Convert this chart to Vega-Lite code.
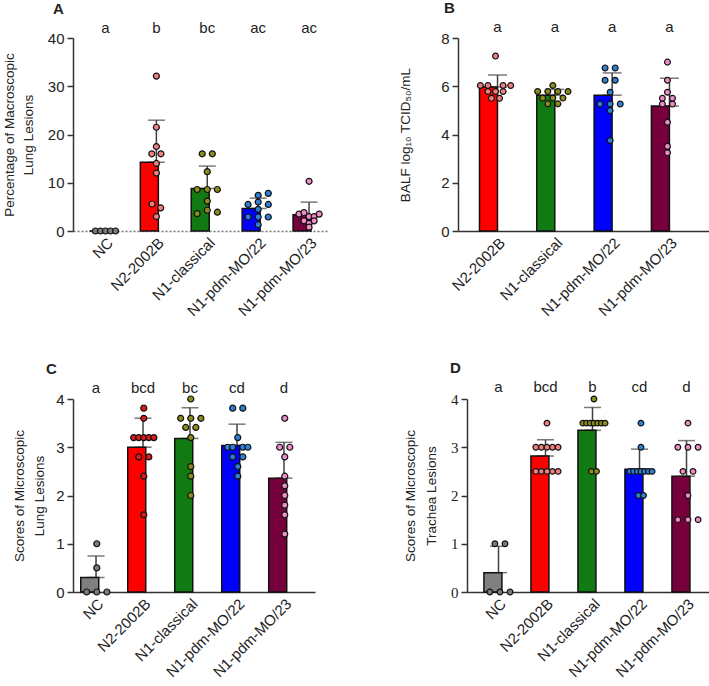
{
  "$schema": "https://vega.github.io/schema/vega-lite/v6.json",
  "padding": {"left": 2, "top": 0, "right": 2, "bottom": 0},
  "config": {
    "view": {"stroke": null},
    "font": "Liberation Sans",
    "axis": {"domainColor": "#333", "tickColor": "#333", "labelColor": "#222", "titleColor": "#222", "labelFontSize": 15, "titleFontSize": 13.5, "titleLineHeight": 19, "grid": false, "labelFont": "Liberation Sans", "titleFont": "Liberation Sans", "domainWidth": 1.5, "tickWidth": 1.5, "titleFontWeight": "normal", "tickSize": 6, "labelPadding": 3},
    "axisX": {"ticks": false, "labelAngle": -45, "title": null, "labelPadding": 4},
    "title": {"fontSize": 15, "fontWeight": "bold", "anchor": "start", "frame": "group", "color": "#222"},
    "text": {"font": "Liberation Sans", "fontSize": 15, "color": "#222"}
  },
  "datasets": {
    "A": [
      {"g": "NC", "v": 0, "s": -2}, {"g": "NC", "v": 0, "s": -1}, {"g": "NC", "v": 0, "s": 0}, {"g": "NC", "v": 0, "s": 1}, {"g": "NC", "v": 0, "s": 2},
      {"g": "N2-2002B", "v": 32.1, "s": 0}, {"g": "N2-2002B", "v": 21.5, "s": 0}, {"g": "N2-2002B", "v": 17.5, "s": 0}, {"g": "N2-2002B", "v": 16.0, "s": -0.9}, {"g": "N2-2002B", "v": 16.0, "s": 0.9}, {"g": "N2-2002B", "v": 14.0, "s": 0}, {"g": "N2-2002B", "v": 12.0, "s": 0}, {"g": "N2-2002B", "v": 5.6, "s": -0.85}, {"g": "N2-2002B", "v": 4.8, "s": 0.85}, {"g": "N2-2002B", "v": 3.0, "s": 0},
      {"g": "N1-classical", "v": 16.0, "s": -1}, {"g": "N1-classical", "v": 16.0, "s": 1}, {"g": "N1-classical", "v": 12.3, "s": 0}, {"g": "N1-classical", "v": 8.6, "s": -2}, {"g": "N1-classical", "v": 8.6, "s": 0}, {"g": "N1-classical", "v": 8.6, "s": 2}, {"g": "N1-classical", "v": 6.2, "s": 0}, {"g": "N1-classical", "v": 3.6, "s": -2}, {"g": "N1-classical", "v": 4.3, "s": 0}, {"g": "N1-classical", "v": 3.9, "s": 2},
      {"g": "N1-pdm-MO/22", "v": 7.8, "s": 2}, {"g": "N1-pdm-MO/22", "v": 7.4, "s": 0}, {"g": "N1-pdm-MO/22", "v": 5.5, "s": -2}, {"g": "N1-pdm-MO/22", "v": 6.0, "s": 0}, {"g": "N1-pdm-MO/22", "v": 5.5, "s": 2}, {"g": "N1-pdm-MO/22", "v": 4.5, "s": 0}, {"g": "N1-pdm-MO/22", "v": 2.9, "s": -2}, {"g": "N1-pdm-MO/22", "v": 2.9, "s": 0}, {"g": "N1-pdm-MO/22", "v": 2.9, "s": 2}, {"g": "N1-pdm-MO/22", "v": 1.3, "s": 0},
      {"g": "N1-pdm-MO/23", "v": 10.3, "s": 0}, {"g": "N1-pdm-MO/23", "v": 3.5, "s": -2}, {"g": "N1-pdm-MO/23", "v": 3.8, "s": -1}, {"g": "N1-pdm-MO/23", "v": 3.0, "s": 0}, {"g": "N1-pdm-MO/23", "v": 3.0, "s": 1}, {"g": "N1-pdm-MO/23", "v": 3.5, "s": 2}, {"g": "N1-pdm-MO/23", "v": 2.1, "s": -1}, {"g": "N1-pdm-MO/23", "v": 1.6, "s": 0}, {"g": "N1-pdm-MO/23", "v": 2.1, "s": 1}, {"g": "N1-pdm-MO/23", "v": 0.8, "s": 0}
    ],
    "B": [
      {"g": "N2-2002B", "v": 7.25, "s": 0}, {"g": "N2-2002B", "v": 6.03, "s": -3}, {"g": "N2-2002B", "v": 6.03, "s": -1.5}, {"g": "N2-2002B", "v": 6.03, "s": 1.5}, {"g": "N2-2002B", "v": 6.03, "s": 3}, {"g": "N2-2002B", "v": 5.78, "s": -1.5}, {"g": "N2-2002B", "v": 5.78, "s": 0}, {"g": "N2-2002B", "v": 5.78, "s": 1.5}, {"g": "N2-2002B", "v": 5.5, "s": -0.8}, {"g": "N2-2002B", "v": 5.5, "s": 0.8},
      {"g": "N1-classical", "v": 6.03, "s": 0}, {"g": "N1-classical", "v": 5.78, "s": -3}, {"g": "N1-classical", "v": 5.78, "s": -1}, {"g": "N1-classical", "v": 5.78, "s": 1}, {"g": "N1-classical", "v": 5.78, "s": 3}, {"g": "N1-classical", "v": 5.51, "s": -2}, {"g": "N1-classical", "v": 5.51, "s": 0}, {"g": "N1-classical", "v": 5.51, "s": 2}, {"g": "N1-classical", "v": 5.27, "s": -1}, {"g": "N1-classical", "v": 5.27, "s": 1},
      {"g": "N1-pdm-MO/22", "v": 6.76, "s": -1}, {"g": "N1-pdm-MO/22", "v": 6.76, "s": 1}, {"g": "N1-pdm-MO/22", "v": 6.25, "s": -1}, {"g": "N1-pdm-MO/22", "v": 6.25, "s": 1}, {"g": "N1-pdm-MO/22", "v": 5.75, "s": 0}, {"g": "N1-pdm-MO/22", "v": 5.26, "s": -2}, {"g": "N1-pdm-MO/22", "v": 5.26, "s": 0}, {"g": "N1-pdm-MO/22", "v": 5.26, "s": 2}, {"g": "N1-pdm-MO/22", "v": 4.99, "s": 0}, {"g": "N1-pdm-MO/22", "v": 3.75, "s": 0},
      {"g": "N1-pdm-MO/23", "v": 7.0, "s": 0}, {"g": "N1-pdm-MO/23", "v": 6.25, "s": 0}, {"g": "N1-pdm-MO/23", "v": 5.75, "s": 0}, {"g": "N1-pdm-MO/23", "v": 5.5, "s": -1}, {"g": "N1-pdm-MO/23", "v": 5.5, "s": 1}, {"g": "N1-pdm-MO/23", "v": 5.26, "s": -1}, {"g": "N1-pdm-MO/23", "v": 5.26, "s": 1}, {"g": "N1-pdm-MO/23", "v": 4.51, "s": 0}, {"g": "N1-pdm-MO/23", "v": 3.51, "s": 0}, {"g": "N1-pdm-MO/23", "v": 3.24, "s": 0}
    ],
    "C": [
      {"g": "NC", "v": 1.0, "s": 0}, {"g": "NC", "v": 0.5, "s": 0}, {"g": "NC", "v": 0, "s": -2}, {"g": "NC", "v": 0, "s": 0}, {"g": "NC", "v": 0, "s": 2},
      {"g": "N2-2002B", "v": 3.81, "s": 0}, {"g": "N2-2002B", "v": 3.6, "s": 0}, {"g": "N2-2002B", "v": 3.2, "s": -2}, {"g": "N2-2002B", "v": 3.2, "s": -1}, {"g": "N2-2002B", "v": 3.2, "s": 0}, {"g": "N2-2002B", "v": 3.2, "s": 1}, {"g": "N2-2002B", "v": 3.2, "s": 2}, {"g": "N2-2002B", "v": 2.8, "s": -1}, {"g": "N2-2002B", "v": 2.8, "s": 1}, {"g": "N2-2002B", "v": 2.4, "s": 0}, {"g": "N2-2002B", "v": 1.6, "s": 0},
      {"g": "N1-classical", "v": 4.0, "s": 0}, {"g": "N1-classical", "v": 3.6, "s": -2}, {"g": "N1-classical", "v": 3.6, "s": 0}, {"g": "N1-classical", "v": 3.6, "s": 2}, {"g": "N1-classical", "v": 3.41, "s": -1}, {"g": "N1-classical", "v": 3.41, "s": 1}, {"g": "N1-classical", "v": 3.2, "s": 0}, {"g": "N1-classical", "v": 2.6, "s": 0}, {"g": "N1-classical", "v": 2.4, "s": 0}, {"g": "N1-classical", "v": 2.0, "s": 0},
      {"g": "N1-pdm-MO/22", "v": 3.81, "s": -1}, {"g": "N1-pdm-MO/22", "v": 3.81, "s": 1}, {"g": "N1-pdm-MO/22", "v": 3.2, "s": 0}, {"g": "N1-pdm-MO/22", "v": 3.0, "s": -2}, {"g": "N1-pdm-MO/22", "v": 3.0, "s": -1}, {"g": "N1-pdm-MO/22", "v": 3.0, "s": 1}, {"g": "N1-pdm-MO/22", "v": 3.0, "s": 2}, {"g": "N1-pdm-MO/22", "v": 2.8, "s": -1}, {"g": "N1-pdm-MO/22", "v": 2.8, "s": 1}, {"g": "N1-pdm-MO/22", "v": 2.6, "s": 0}, {"g": "N1-pdm-MO/22", "v": 2.4, "s": 0},
      {"g": "N1-pdm-MO/23", "v": 3.6, "s": 0}, {"g": "N1-pdm-MO/23", "v": 3.0, "s": -1}, {"g": "N1-pdm-MO/23", "v": 3.0, "s": 1}, {"g": "N1-pdm-MO/23", "v": 2.8, "s": 0}, {"g": "N1-pdm-MO/23", "v": 2.4, "s": 0}, {"g": "N1-pdm-MO/23", "v": 2.2, "s": 0}, {"g": "N1-pdm-MO/23", "v": 2.0, "s": 0}, {"g": "N1-pdm-MO/23", "v": 1.8, "s": 0}, {"g": "N1-pdm-MO/23", "v": 1.6, "s": 0}, {"g": "N1-pdm-MO/23", "v": 1.2, "s": 0}
    ],
    "D": [
      {"g": "NC", "v": 1.0, "s": -1}, {"g": "NC", "v": 1.0, "s": 1}, {"g": "NC", "v": 0, "s": -2}, {"g": "NC", "v": 0, "s": 0}, {"g": "NC", "v": 0, "s": 2},
      {"g": "N2-2002B", "v": 3.5, "s": 0}, {"g": "N2-2002B", "v": 3.0, "s": -2.2}, {"g": "N2-2002B", "v": 3.0, "s": -1.1}, {"g": "N2-2002B", "v": 3.0, "s": 0}, {"g": "N2-2002B", "v": 3.0, "s": 1.1}, {"g": "N2-2002B", "v": 3.0, "s": 2.2}, {"g": "N2-2002B", "v": 2.5, "s": -2.2}, {"g": "N2-2002B", "v": 2.5, "s": -1.1}, {"g": "N2-2002B", "v": 2.5, "s": 0}, {"g": "N2-2002B", "v": 2.5, "s": 1.1}, {"g": "N2-2002B", "v": 2.5, "s": 2.2},
      {"g": "N1-classical", "v": 4.0, "s": 0}, {"g": "N1-classical", "v": 3.5, "s": -2.2}, {"g": "N1-classical", "v": 3.5, "s": -1.47}, {"g": "N1-classical", "v": 3.5, "s": -0.73}, {"g": "N1-classical", "v": 3.5, "s": 0}, {"g": "N1-classical", "v": 3.5, "s": 0.73}, {"g": "N1-classical", "v": 3.5, "s": 1.47}, {"g": "N1-classical", "v": 3.5, "s": 2.2}, {"g": "N1-classical", "v": 2.5, "s": -0.5}, {"g": "N1-classical", "v": 2.5, "s": 0.5},
      {"g": "N1-pdm-MO/22", "v": 3.5, "s": 0}, {"g": "N1-pdm-MO/22", "v": 3.0, "s": 0}, {"g": "N1-pdm-MO/22", "v": 2.5, "s": -2.2}, {"g": "N1-pdm-MO/22", "v": 2.5, "s": -1.47}, {"g": "N1-pdm-MO/22", "v": 2.5, "s": -0.73}, {"g": "N1-pdm-MO/22", "v": 2.5, "s": 0}, {"g": "N1-pdm-MO/22", "v": 2.5, "s": 0.73}, {"g": "N1-pdm-MO/22", "v": 2.5, "s": 1.47}, {"g": "N1-pdm-MO/22", "v": 2.5, "s": 2.2}, {"g": "N1-pdm-MO/22", "v": 2.0, "s": -0.5}, {"g": "N1-pdm-MO/22", "v": 2.0, "s": 0.5},
      {"g": "N1-pdm-MO/23", "v": 3.5, "s": 0}, {"g": "N1-pdm-MO/23", "v": 3.0, "s": -2}, {"g": "N1-pdm-MO/23", "v": 3.0, "s": 0}, {"g": "N1-pdm-MO/23", "v": 3.0, "s": 2}, {"g": "N1-pdm-MO/23", "v": 2.5, "s": -1}, {"g": "N1-pdm-MO/23", "v": 2.5, "s": 1}, {"g": "N1-pdm-MO/23", "v": 2.0, "s": 0}, {"g": "N1-pdm-MO/23", "v": 1.5, "s": -2}, {"g": "N1-pdm-MO/23", "v": 1.5, "s": 0}, {"g": "N1-pdm-MO/23", "v": 1.5, "s": 2}
    ],
    "LA": [{"g": "NC", "t": "a"}, {"g": "N2-2002B", "t": "b"}, {"g": "N1-classical", "t": "bc"}, {"g": "N1-pdm-MO/22", "t": "ac"}, {"g": "N1-pdm-MO/23", "t": "ac"}],
    "LB": [{"g": "N2-2002B", "t": "a"}, {"g": "N1-classical", "t": "a"}, {"g": "N1-pdm-MO/22", "t": "a"}, {"g": "N1-pdm-MO/23", "t": "a"}],
    "LC": [{"g": "NC", "t": "a"}, {"g": "N2-2002B", "t": "bcd"}, {"g": "N1-classical", "t": "bc"}, {"g": "N1-pdm-MO/22", "t": "cd"}, {"g": "N1-pdm-MO/23", "t": "d"}],
    "LD": [{"g": "NC", "t": "a"}, {"g": "N2-2002B", "t": "bcd"}, {"g": "N1-classical", "t": "b"}, {"g": "N1-pdm-MO/22", "t": "cd"}, {"g": "N1-pdm-MO/23", "t": "d"}]
  },
  "columns": 1,
  "align": "none",
  "spacing": 41,
  "concat": [
    {
      "spacing": 70,
      "hconcat": [
        {
          "width": 255, "height": 193,
          "title": {"text": "A", "dx": -20, "offset": 4},
          "data": {"name": "A"},
          "encoding": {"x": {"field": "g", "type": "nominal", "sort": ["NC", "N2-2002B", "N1-classical", "N1-pdm-MO/22", "N1-pdm-MO/23"], "scale": {"paddingInner": 0.37, "paddingOuter": 0.19, "align": 0.85}, "axis": {"domainDash": [2, 2], "domainColor": "#777"}}},
          "layer": [
            {"transform": [{"aggregate": [{"op": "mean", "field": "v", "as": "m"}, {"op": "stdev", "field": "v", "as": "sd"}, {"op": "missing", "field": "v", "as": "z"}], "groupby": ["g"]}],
             "mark": {"type": "errorbar", "color": "#404040", "rule": {"strokeWidth": 1.5}, "ticks": {"size": 17, "thickness": 1.5}},
             "encoding": {"y": {"field": "m", "type": "quantitative", "scale": {"domain": [0, 40]}, "axis": {"title": ["Percentage of Macroscopic", "Lung Lesions"], "values": [0, 10, 20, 30, 40], "titlePadding": 12}}, "yError": {"field": "sd"}, "yError2": {"field": "z"}}},
            {"mark": {"type": "bar", "stroke": "#111", "strokeWidth": 1.5},
             "encoding": {"y": {"aggregate": "mean", "field": "v", "type": "quantitative"}, "color": {"field": "g", "type": "nominal", "legend": null, "scale": {"domain": ["NC", "N2-2002B", "N1-classical", "N1-pdm-MO/22", "N1-pdm-MO/23"], "range": ["#808080", "#ff0000", "#127a12", "#0000ff", "#76003c"]}}}},
            {"mark": {"type": "circle", "size": 36, "stroke": "#111", "strokeWidth": 1.2, "opacity": 1},
             "encoding": {"y": {"field": "v", "type": "quantitative"}, "xOffset": {"field": "s", "type": "quantitative", "scale": {"domain": [-2.29, 2.29]}}, "fill": {"field": "g", "type": "nominal", "legend": null, "scale": {"domain": ["NC", "N2-2002B", "N1-classical", "N1-pdm-MO/22", "N1-pdm-MO/23"], "range": ["#7a7a7a", "#f08080", "#8c8c1e", "#2e7fd6", "#f08cc8"]}}}},
            {"data": {"name": "LA"}, "mark": {"type": "text"},
             "encoding": {"y": {"datum": 42, "type": "quantitative"}, "text": {"field": "t"}}}
          ],
          "resolve": {"scale": {"fill": "independent", "color": "independent"}}
        },
        {
          "width": 251, "height": 193,
          "title": {"text": "B", "dx": -14, "offset": 4},
          "data": {"name": "B"},
          "encoding": {"x": {"field": "g", "type": "nominal", "sort": ["N2-2002B", "N1-classical", "N1-pdm-MO/22", "N1-pdm-MO/23"], "scale": {"paddingInner": 0.37, "paddingOuter": 0.375}}},
          "layer": [
            {"transform": [{"aggregate": [{"op": "mean", "field": "v", "as": "m"}, {"op": "stdev", "field": "v", "as": "sd"}, {"op": "missing", "field": "v", "as": "z"}], "groupby": ["g"]}],
             "mark": {"type": "errorbar", "color": "#404040", "rule": {"strokeWidth": 1.5}, "ticks": {"size": 19, "thickness": 1.5}},
             "encoding": {"y": {"field": "m", "type": "quantitative", "scale": {"domain": [0, 8]}, "axis": {"title": "BALF log₁₀ TCID₅₀/mL", "values": [0, 2, 4, 6, 8], "titlePadding": 28}}, "yError": {"field": "sd"}, "yError2": {"field": "z"}}},
            {"mark": {"type": "bar", "stroke": "#111", "strokeWidth": 1.5},
             "encoding": {"y": {"aggregate": "mean", "field": "v", "type": "quantitative"}, "color": {"field": "g", "type": "nominal", "legend": null, "scale": {"domain": ["N2-2002B", "N1-classical", "N1-pdm-MO/22", "N1-pdm-MO/23"], "range": ["#ff0000", "#127a12", "#0000ff", "#76003c"]}}}},
            {"mark": {"type": "circle", "size": 34, "stroke": "#111", "strokeWidth": 1.2, "opacity": 1},
             "encoding": {"y": {"field": "v", "type": "quantitative"}, "xOffset": {"field": "s", "type": "quantitative", "scale": {"domain": [-3.17, 3.17]}}, "fill": {"field": "g", "type": "nominal", "legend": null, "scale": {"domain": ["N2-2002B", "N1-classical", "N1-pdm-MO/22", "N1-pdm-MO/23"], "range": ["#f08080", "#8c8c1e", "#2e7fd6", "#f08cc8"]}}}},
            {"data": {"name": "LB"}, "mark": {"type": "text"},
             "encoding": {"y": {"datum": 8.46, "type": "quantitative"}, "text": {"field": "t"}}}
          ],
          "resolve": {"scale": {"fill": "independent", "color": "independent"}}
        }
      ]
    },
    {
      "spacing": 88,
      "hconcat": [
        {
          "width": 242, "height": 193,
          "title": {"text": "C", "dx": -27, "offset": 4},
          "data": {"name": "C"},
          "encoding": {"x": {"field": "g", "type": "nominal", "sort": ["NC", "N2-2002B", "N1-classical", "N1-pdm-MO/22", "N1-pdm-MO/23"], "scale": {"paddingInner": 0.35, "paddingOuter": 0.25, "align": 0.33}}},
          "layer": [
            {"transform": [{"aggregate": [{"op": "mean", "field": "v", "as": "m"}, {"op": "stdev", "field": "v", "as": "sd"}, {"op": "missing", "field": "v", "as": "z"}], "groupby": ["g"]}],
             "mark": {"type": "errorbar", "color": "#404040", "rule": {"strokeWidth": 1.5}, "ticks": {"size": 17, "thickness": 1.5}},
             "encoding": {"y": {"field": "m", "type": "quantitative", "scale": {"domain": [0, 4]}, "axis": {"title": ["Scores of Microscopic", "Lung Lesions"], "values": [0, 1, 2, 3, 4], "titlePadding": 9, "titleLineHeight": 20}}, "yError": {"field": "sd"}, "yError2": {"field": "z"}}},
            {"mark": {"type": "bar", "stroke": "#111", "strokeWidth": 1.5},
             "encoding": {"y": {"aggregate": "mean", "field": "v", "type": "quantitative"}, "color": {"field": "g", "type": "nominal", "legend": null, "scale": {"domain": ["NC", "N2-2002B", "N1-classical", "N1-pdm-MO/22", "N1-pdm-MO/23"], "range": ["#808080", "#ff0000", "#127a12", "#0000ff", "#76003c"]}}}},
            {"mark": {"type": "circle", "size": 36, "stroke": "#111", "strokeWidth": 1.2, "opacity": 1},
             "encoding": {"y": {"field": "v", "type": "quantitative"}, "xOffset": {"field": "s", "type": "quantitative", "scale": {"domain": [-2.41, 2.41]}}, "fill": {"field": "g", "type": "nominal", "legend": null, "scale": {"domain": ["NC", "N2-2002B", "N1-classical", "N1-pdm-MO/22", "N1-pdm-MO/23"], "range": ["#7a7a7a", "#d91c1c", "#8c8c1e", "#2e7fd6", "#f08cc8"]}}}},
            {"data": {"name": "LC"}, "mark": {"type": "text"},
             "encoding": {"y": {"datum": 4.23, "type": "quantitative"}, "text": {"field": "t"}}}
          ],
          "resolve": {"scale": {"fill": "independent", "color": "independent"}}
        },
        {
          "width": 251, "height": 193,
          "title": {"text": "D", "dx": -17, "offset": 4},
          "data": {"name": "D"},
          "encoding": {"x": {"field": "g", "type": "nominal", "sort": ["NC", "N2-2002B", "N1-classical", "N1-pdm-MO/22", "N1-pdm-MO/23"], "scale": {"paddingInner": 0.38, "paddingOuter": 0.36}}},
          "layer": [
            {"transform": [{"aggregate": [{"op": "mean", "field": "v", "as": "m"}, {"op": "stdev", "field": "v", "as": "sd"}, {"op": "missing", "field": "v", "as": "z"}], "groupby": ["g"]}],
             "mark": {"type": "errorbar", "color": "#404040", "rule": {"strokeWidth": 1.5}, "ticks": {"size": 17, "thickness": 1.5}},
             "encoding": {"y": {"field": "m", "type": "quantitative", "scale": {"domain": [0, 4]}, "axis": {"title": ["Scores of Microscopic", "Trachea Lesions"], "values": [0, 1, 2, 3, 4], "titlePadding": 12, "titleLineHeight": 21, "labelFont": "Liberation Serif"}}, "yError": {"field": "sd"}, "yError2": {"field": "z"}}},
            {"mark": {"type": "bar", "stroke": "#111", "strokeWidth": 1.5},
             "encoding": {"y": {"aggregate": "mean", "field": "v", "type": "quantitative"}, "color": {"field": "g", "type": "nominal", "legend": null, "scale": {"domain": ["NC", "N2-2002B", "N1-classical", "N1-pdm-MO/22", "N1-pdm-MO/23"], "range": ["#808080", "#ff0000", "#127a12", "#0000ff", "#76003c"]}}}},
            {"mark": {"type": "circle", "size": 32, "stroke": "#111", "strokeWidth": 1.2, "opacity": 1},
             "encoding": {"y": {"field": "v", "type": "quantitative"}, "xOffset": {"field": "s", "type": "quantitative", "scale": {"domain": [-2.31, 2.31]}}, "fill": {"field": "g", "type": "nominal", "legend": null, "scale": {"domain": ["NC", "N2-2002B", "N1-classical", "N1-pdm-MO/22", "N1-pdm-MO/23"], "range": ["#7a7a7a", "#f08080", "#8c8c1e", "#2e7fd6", "#f08cc8"]}}}},
            {"data": {"name": "LD"}, "mark": {"type": "text"},
             "encoding": {"y": {"datum": 4.25, "type": "quantitative"}, "text": {"field": "t"}}}
          ],
          "resolve": {"scale": {"fill": "independent", "color": "independent"}}
        }
      ]
    }
  ]
}
